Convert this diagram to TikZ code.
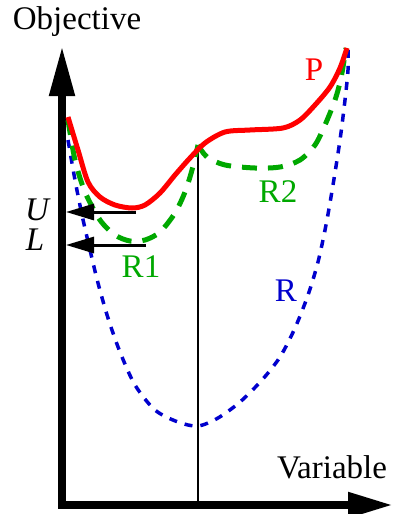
\documentclass[tikz,border=0pt]{standalone}
\usepackage{fontspec}
\setmainfont{Liberation Serif}
\usetikzlibrary{arrows.meta}
\definecolor{pcol}{RGB}{255,0,0}
\definecolor{rcol}{RGB}{0,0,205}
\definecolor{relaxcol}{RGB}{0,168,0}
\tikzset{
  % thick axis with big arrow head
  axisline/.style={line width=8pt, line cap=rect, -{Triangle[length=#1,width=24pt]}},
  axisline/.default={48pt},
  % bound arrow pointing at the axis
  boundarrow/.style={line width=3pt, -{Triangle[length=28pt,width=16pt]}},
  % original problem
  pcurve/.style={pcol, line width=5pt},
  % relaxation
  rcurve/.style={rcol, line width=3.5pt, dash pattern=on 8pt off 8pt},
  % partial relaxations
  subcurve/.style={relaxcol, line width=5pt, dash pattern=on 15pt off 11pt},
  % labels
  biglabel/.style={font=\fontsize{33}{36}\selectfont, inner sep=0pt},
}

\begin{document}
\begin{tikzpicture}[x=1pt, y=-1pt]
  \useasboundingbox (0,0) rectangle (394,514);

  % axes
  \coordinate (O) at (62,505);
  \coordinate (ytip) at (62,46);
  \coordinate (xtip) at (393,505);
  \draw[axisline=50pt] (O) -- (ytip);
  \draw[axisline=45pt] (O) -- (xtip);
  \node[biglabel] (ylab) at (77,22) {Objective};
  \node[biglabel] (xlab) at (332,467) {Variable};

  % branching point
  \coordinate (brtop) at (198,145);
  \coordinate (brbot) at (198,505);
  \draw[line width=2.5pt] (brtop) -- (brbot);

  % curves
  \draw[rcurve] plot[smooth] coordinates {(68,140) (75,180) (82,215) (90,250) (98,283)
    (108,318) (120,352) (135,385) (155,410) (178,422) (198,426) (218,418) (240,402)
    (262,380) (280,357) (295,328) (308,295) (318,262) (326,225) (333,185) (340,140)
    (345,100) (348,70) (348,48)};
  \draw[subcurve] plot[smooth] coordinates {(68,120) (75,160) (85,192) (100,220)
    (115,235) (130,241) (145,240) (160,232) (175,213) (185,192) (192,170) (brtop)};
  \draw[subcurve] plot[smooth] coordinates {(brtop) (207,157) (225,165) (255,168)
    (280,167) (300,160) (315,145) (325,125) (335,100) (341,78) (346,48)};
  \draw[pcurve] plot[smooth] coordinates {(68,117) (78,150) (88,182) (100,197)
    (115,205) (132,208) (145,205) (160,193) (175,175) (190,158) (205,143) (225,132)
    (250,130) (283,128) (300,120) (315,105) (330,87) (340,68) (347,48)};

  \node[biglabel, pcol] (plab) at (314,70) {P};
  \node[biglabel, relaxcol] (r2lab) at (278,192) {R2};
  \node[biglabel, relaxcol] (r1lab) at (141,267) {R1};
  \node[biglabel, rcol] (rlab) at (286,291) {R};

  % bounds
  \node[biglabel, font=\fontsize{33}{36}\selectfont\itshape] (ulab) at (37,210) {U};
  \node[biglabel, font=\fontsize{33}{36}\selectfont\itshape] (llab) at (35,240) {L};
  \coordinate (ustart) at (136,212);
  \coordinate (uend) at (66,212);
  \coordinate (lstart) at (146,245);
  \coordinate (lend) at (66,245);
  \draw[boundarrow] (ustart) -- (uend);
  \draw[boundarrow] (lstart) -- (lend);
\end{tikzpicture}
\end{document}
